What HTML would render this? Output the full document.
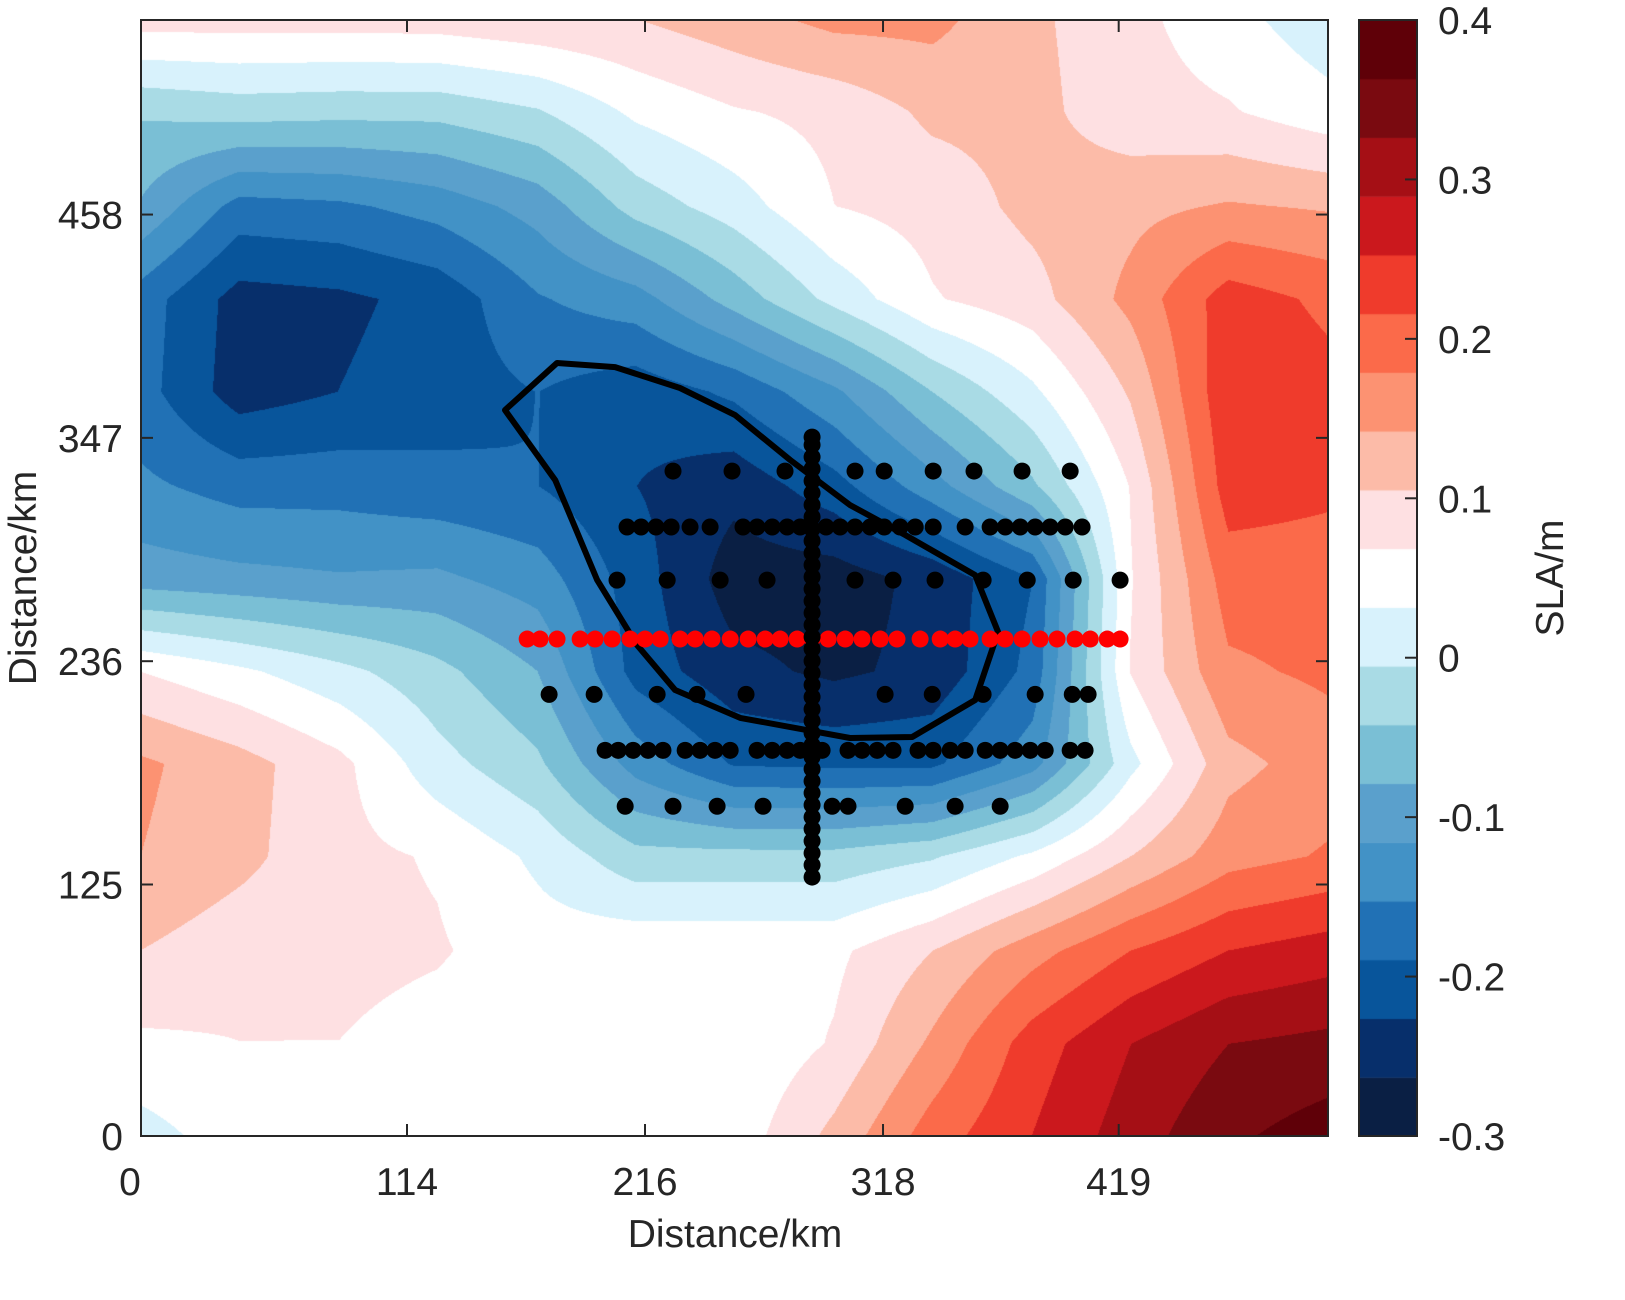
<!DOCTYPE html>
<html><head><meta charset="utf-8"><style>
body{margin:0;background:#fff;width:1625px;height:1300px;overflow:hidden;font-family:"Liberation Sans",sans-serif}
#wrap{position:relative;width:1625px;height:1300px}
canvas{position:absolute;left:141px;top:20px}
svg{position:absolute;left:0;top:0}
</style></head><body>
<div id="wrap">
<canvas id="cv" width="1187" height="1116"></canvas>
<canvas id="cb" width="58" height="1116" style="left:1359px;top:20px"></canvas>
<svg id="sv" width="1625" height="1300"></svg>
</div>
<script>
// grid nodes (km)
const gridX = [0,42,85,127,170,212,254,297,339,382,424,466,509];
const gridY = [555,509,462,416,370,323,277,231,185,139,92,46,0];
// SLA (m), rows top->bottom
const slaRows = [
[0.085,0.085,0.085,0.087,0.098,0.105,0.127,0.153,0.153,0.113,0.079,0.046,0.006],
[-0.038,-0.027,-0.031,-0.031,-0.009,0.039,0.065,0.079,0.113,0.116,0.083,0.072,0.046],
[-0.083,-0.167,-0.160,-0.138,-0.101,-0.027,0.013,0.068,0.083,0.116,0.131,0.146,0.138],
[-0.171,-0.241,-0.234,-0.215,-0.156,-0.131,-0.064,0.006,0.065,0.091,0.153,0.234,0.208],
[-0.175,-0.245,-0.226,-0.208,-0.189,-0.212,-0.182,-0.123,-0.042,0.024,0.110,0.245,0.227],
[-0.145,-0.167,-0.167,-0.178,-0.189,-0.226,-0.252,-0.204,-0.131,-0.049,0.070,0.234,0.223],
[-0.097,-0.105,-0.112,-0.108,-0.134,-0.208,-0.282,-0.282,-0.252,-0.190,0.065,0.197,0.197],
[0.068,0.039,0.006,-0.031,-0.079,-0.204,-0.252,-0.271,-0.252,-0.178,0.070,0.172,0.186],
[0.149,0.120,0.079,0.009,-0.035,-0.131,-0.193,-0.197,-0.197,-0.131,0.020,0.130,0.160],
[0.142,0.116,0.079,0.065,0.024,-0.030,-0.030,-0.030,-0.010,0.039,0.105,0.164,0.183],
[0.105,0.083,0.079,0.072,0.050,0.060,0.060,0.060,0.105,0.164,0.216,0.253,0.271],
[0.061,0.068,0.068,0.054,0.039,0.035,0.035,0.072,0.149,0.234,0.289,0.326,0.337],
[0.017,0.050,0.050,0.046,0.043,0.039,0.046,0.116,0.197,0.253,0.308,0.356,0.382]
];
const bandColors = ['#0a1f44','#072f6b','#08559b','#2171b5','#4292c6','#5aa0cc','#7abfd5','#a9dbe5','#d8f2fc','#ffffff','#fee0e2','#fcbba8','#fc9272','#fb6a4a','#ef3b2c','#cb181d','#a50f15','#7a0a10','#5f0008'];
const cMin = -0.3, cMax = 0.4;
const xTicks = [0,114,216,318,419];
const yTicks = [0,125,236,347,458];
const cTicks = [-0.3,-0.2,-0.1,0,0.1,0.2,0.3,0.4];
const cTickLabels = ['-0.3','-0.2','-0.1','0','0.1','0.2','0.3','0.4'];
// eddy boundary contour (km)
const contourX = [156.0,178.3,203.2,231.0,254.6,278.2,303.9,327.5,357.5,367.3,357.5,330.5,303.9,256.8,228.9,212.6,195.5,184.7,177.5];
const contourY = [360.8,384.2,382.2,371.8,358.3,336.0,313.6,298.7,278.8,250.5,216.7,198.3,197.8,207.8,221.7,244.0,276.3,306.2,326.0];
// sample points (km)
const rowAx=[228.0,253.3,276.0,306.0,318.5,339.5,357.0,377.6,398.2]; const rowAy=330.5;
const rowBx=[208.3,214.3,220.7,227.2,235.3,243.9,258.0,264.0,270.5,276.9,282.5,293.6,299.6,306.0,312.5,318.5,325.3,331.8,339.5,353.2,363.9,370.4,376.8,383.2,389.6,396.1,403.3]; const rowBy=302.7;
const rowCx=[204.0,225.5,248.2,268.3,306.0,322.3,340.3,360.9,379.8,399.5,419.6]; const rowCy=276.3;
const rowDx=[174.9,194.2,221.2,238.3,259.3,318.9,339.1,360.9,383.2,399.1,405.9]; const rowDy=219.5;
const rowEx=[198.9,204.5,210.9,217.3,223.7,233.2,239.6,246.0,252.5,264.0,270.5,276.9,282.5,291.9,303.0,309.0,315.5,322.3,333.0,339.5,346.8,353.2,361.8,368.2,374.6,381.1,387.5,398.2,404.6]; const rowEy=191.7;
const rowFx=[207.5,228.0,246.9,266.6,296.2,303.0,327.5,348.9,368.2]; const rowFy=163.9;
const redX=[165.5,171.0,178.3,188.2,194.6,201.9,209.6,216.0,222.5,231.0,237.5,244.7,252.5,260.2,267.5,273.9,281.2,287.6,294.5,301.8,309.0,316.8,324.0,333.9,342.5,348.9,355.3,363.9,370.3,377.6,385.3,392.6,400.3,406.8,414.1,419.6]; const redY=247.0;
const vertX=287.6;
const vertY=[128.7,134.7,140.6,146.6,152.6,158.5,164.5,170.5,176.4,182.4,188.4,194.3,200.3,206.3,212.2,218.2,224.2,230.1,236.1,242.1,248.0,254.0,260.0,265.9,271.9,277.9,283.8,289.8,295.8,301.7,307.7,313.7,319.6,325.6,331.6,337.5,343.5,347.4];

const X0=141,X1=1328,Y0=20,Y1=1136,XMAX=508.7,YMAX=554.7;
function sx(k){return X0+k*(X1-X0)/XMAX;}
function sy(k){return Y1-k*(Y1-Y0)/YMAX;}
function cy(v){return Y1-(v-cMin)/(cMax-cMin)*(Y1-Y0);}
function hex(c){return [parseInt(c.substr(1,2),16),parseInt(c.substr(3,2),16),parseInt(c.substr(5,2),16)];}
const rgb=bandColors.map(hex), nb=bandColors.length;
function band(v){let k=Math.floor((v-cMin)/(cMax-cMin)*nb);return Math.max(0,Math.min(nb-1,k));}
function findIdx(arr,v,desc){for(let i=0;i<arr.length-1;i++){const a=arr[i],b=arr[i+1];if(desc?(v<=a&&v>=b):(v>=a&&v<=b))return i;}return arr.length-2;}
// field
(function(){
 const cv=document.getElementById('cv'),ctx=cv.getContext('2d');
 const W=cv.width,H=cv.height,img=ctx.createImageData(W,H),d=img.data;
 for(let py=0;py<H;py++){
  const yk=(Y1-(py+Y0+0.5))*YMAX/(Y1-Y0);
  const j=findIdx(gridY,yk,true);
  const ty=(gridY[j]-yk)/(gridY[j]-gridY[j+1]);
  for(let px=0;px<W;px++){
   const xk=(px+0.5)*XMAX/(X1-X0);
   const i=findIdx(gridX,xk,false);
   const tx=(xk-gridX[i])/(gridX[i+1]-gridX[i]);
   const v=(slaRows[j][i]*(1-tx)+slaRows[j][i+1]*tx)*(1-ty)+(slaRows[j+1][i]*(1-tx)+slaRows[j+1][i+1]*tx)*ty;
   const c=rgb[band(v)],o=(py*W+px)*4;
   d[o]=c[0];d[o+1]=c[1];d[o+2]=c[2];d[o+3]=255;
  }
 }
 ctx.putImageData(img,0,0);
 const cb=document.getElementById('cb').getContext('2d');
 for(let k=0;k<nb;k++){
  const vlo=cMin+k*(cMax-cMin)/nb,vhi=cMin+(k+1)*(cMax-cMin)/nb;
  cb.fillStyle=bandColors[k];
  cb.fillRect(0,cy(vhi)-Y0,58,cy(vlo)-cy(vhi)+0.5);
 }
})();
// overlay
const NS='http://www.w3.org/2000/svg',sv=document.getElementById('sv');
function mk(tag,at,parent){const e=document.createElementNS(NS,tag);for(const k in at)e.setAttribute(k,at[k]);(parent||sv).appendChild(e);return e;}
// contour
let pts=contourX.map((x,i)=>sx(x).toFixed(1)+','+sy(contourY[i]).toFixed(1)).join(' ');
let cl=mk('polygon',{points:pts,fill:'none',stroke:'#000','stroke-width':6,'stroke-linejoin':'round'});


// dots
const gDots=mk('g',{});


function dotRow(xs,y,col,g){xs.forEach(x=>{const c=mk('circle',{cx:sx(x),cy:sy(y),r:8.5,fill:col},g);});}
[[rowAx,rowAy],[rowBx,rowBy],[rowCx,rowCy],[rowDx,rowDy],[rowEx,rowEy],[rowFx,rowFy]].forEach(r=>dotRow(r[0],r[1],'#000',gDots));
const gRed=mk('g',{});


dotRow(redX,redY,'#ff0000',gRed);
const gV=mk('g',{});


vertY.forEach(y=>{const c=mk('circle',{cx:sx(vertX),cy:sy(y),r:8.5,fill:'#000'},gV);});
// frame
let fr=mk('rect',{x:X0,y:Y0,width:X1-X0,height:Y1-Y0,fill:'none',stroke:'#262626','stroke-width':2});


const tstyle='font-family:Liberation Sans,sans-serif;font-size:39px;fill:#262626';
xTicks.forEach((t,i)=>{const x=sx(t);
 mk('line',{x1:x,y1:Y1,x2:x,y2:Y1-12,stroke:'#262626','stroke-width':2});
 mk('line',{x1:x,y1:Y0,x2:x,y2:Y0+12,stroke:'#262626','stroke-width':2});
 const tx=mk('text',{x:i==0?x-11:x,y:1195,'text-anchor':'middle',style:tstyle});tx.textContent=t;
 });
yTicks.forEach(t=>{const y=sy(t);
 mk('line',{x1:X0,y1:y,x2:X0+12,y2:y,stroke:'#262626','stroke-width':2});
 mk('line',{x1:X1,y1:y,x2:X1-12,y2:y,stroke:'#262626','stroke-width':2});
 const tx=mk('text',{x:123,y:y+14,'text-anchor':'end',style:tstyle});tx.textContent=t;
 });
let xl=mk('text',{x:735,y:1247,'text-anchor':'middle',style:tstyle});xl.textContent='Distance/km';

let yl=mk('text',{x:0,y:0,'text-anchor':'middle',style:tstyle,transform:'translate(36,578) rotate(-90)'});yl.textContent='Distance/km';

// colorbar
let cbf=mk('rect',{x:1359,y:Y0,width:58,height:Y1-Y0,fill:'none',stroke:'#262626','stroke-width':2});

cTicks.forEach((t,i)=>{const y=cy(t);
 mk('line',{x1:1417,y1:y,x2:1405,y2:y,stroke:'#262626','stroke-width':2});
 const tx=mk('text',{x:1438,y:y+14,style:tstyle});tx.textContent=cTickLabels[i];
 });
let cl2=mk('text',{x:0,y:0,'text-anchor':'middle',style:tstyle,transform:'translate(1563,578) rotate(-90)'});cl2.textContent='SLA/m';

</script>
</body></html>
